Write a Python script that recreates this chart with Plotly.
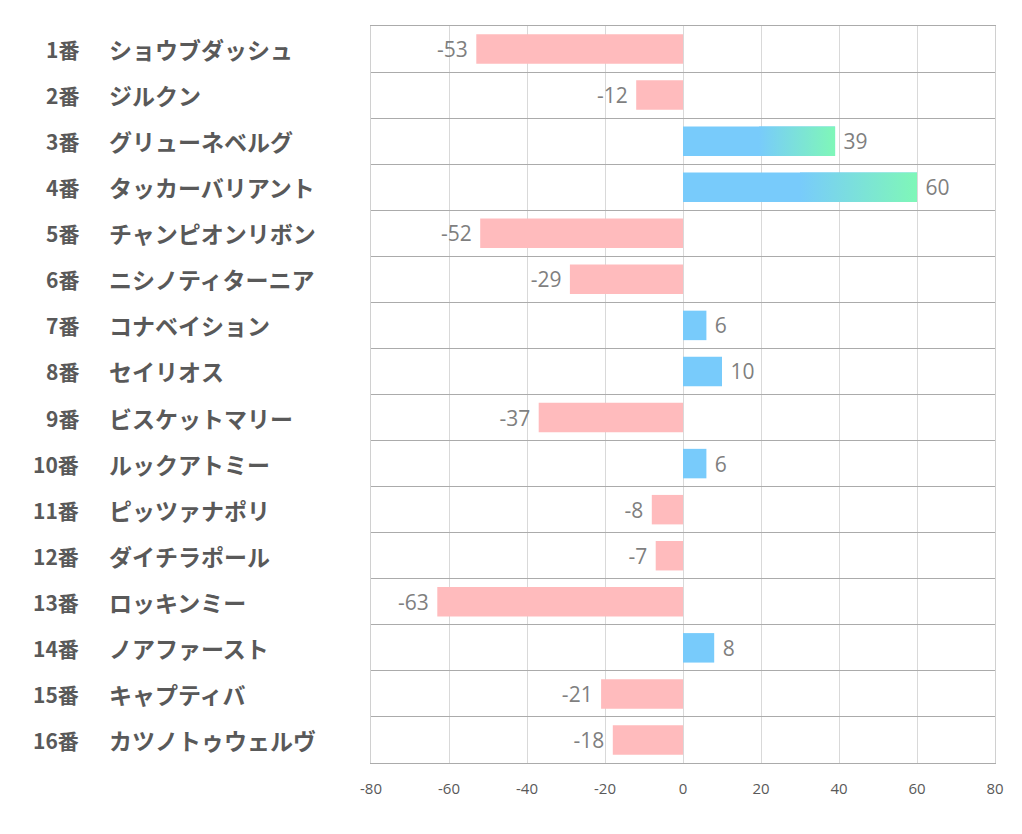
import plotly.graph_objects as go

numbers = ["1番", "2番", "3番", "4番", "5番", "6番", "7番", "8番",
           "9番", "10番", "11番", "12番", "13番", "14番", "15番", "16番"]
names = ["ショウブダッシュ", "ジルクン", "グリューネベルグ", "タッカーバリアント",
         "チャンピオンリボン", "ニシノティターニア", "コナベイション", "セイリオス",
         "ビスケットマリー", "ルックアトミー", "ピッツァナポリ", "ダイチラポール",
         "ロッキンミー", "ノアファースト", "キャプティバ", "カツノトゥウェルヴ"]
values = [-53, -12, 39, 60, -52, -29, 6, 10, -37, 6, -8, -7, -63, 8, -21, -18]
x_ticks = [-80, -60, -40, -20, 0, 20, 40, 60, 80]

BLUE = "#78CBFB"
GREEN = "#7FF7B8"
PINK = "#FFBBBD"
GRAY_TXT = "#7F7F7F"
LABEL_TXT = "#595959"
NB = "\u00a0"

colors = [BLUE if v > 0 else PINK for v in values]
texts = [(f"{v}{NB}" if v < 0 else f"{NB}{v}") for v in values]

fig = go.Figure()
fig.add_trace(go.Bar(
    x=values, y=names, orientation="h",
    marker=dict(color=colors, line=dict(width=0)),
    width=0.64,
    text=texts, textposition="outside",
    textfont=dict(family="Open Sans, Noto Sans", size=21, color=GRAY_TXT),
    cliponaxis=False, hoverinfo="skip",
))

# gradient overlays on large positive bars (from half the value to the end)
half = 0.32
for i, v in enumerate(values):
    if v >= 30:
        x0, x1 = v * 0.5, v
        fig.add_trace(go.Scatter(
            x=[x0, x1, x1, x0, x0],
            y=[i - half, i - half, i + half, i + half, i - half],
            mode="lines", line=dict(width=0), fill="toself",
            fillgradient=dict(type="horizontal",
                              colorscale=[[0, BLUE], [1, GREEN]]),
            yaxis="y2", showlegend=False, hoverinfo="skip",
        ))

for n, nm in zip(numbers, names):
    fig.add_annotation(x=-0.465, xref="paper", y=nm, yref="y", text=n,
                       xanchor="right", yanchor="middle", showarrow=False,
                       font=dict(family="Noto Sans CJK JP", size=21,
                                 color=LABEL_TXT, weight="bold"))
    fig.add_annotation(x=-0.423, xref="paper", y=nm, yref="y", text=nm,
                       xanchor="left", yanchor="middle", showarrow=False,
                       font=dict(family="Noto Sans CJK JP", size=23,
                                 color=LABEL_TXT, weight="bold"))

fig.update_layout(
    width=1014, height=826,
    margin=dict(l=363, r=27, t=18, b=71),
    paper_bgcolor="white", plot_bgcolor="white",
    showlegend=False,
    xaxis=dict(range=[-80, 80], tickvals=x_ticks, ticktext=[str(t) for t in x_ticks],
               showgrid=True, gridcolor="#D9D9D9", gridwidth=1,
               zeroline=False, showline=True, mirror=True,
               linecolor="#ABABAB", linewidth=1,
               ticks="", ticklabelstandoff=12,
               tickfont=dict(family="Open Sans, Noto Sans", size=15, color=LABEL_TXT)),
    yaxis=dict(type="category", autorange="reversed", tickson="boundaries",
               showgrid=True, gridcolor="#ABABAB", gridwidth=1,
               showticklabels=False, ticks="", zeroline=False,
               showline=True, mirror=True, linecolor="#D0D0D0", linewidth=1),
    yaxis2=dict(overlaying="y", range=[15.5, -0.5], visible=False),
)

fig.write_html("out.html")
